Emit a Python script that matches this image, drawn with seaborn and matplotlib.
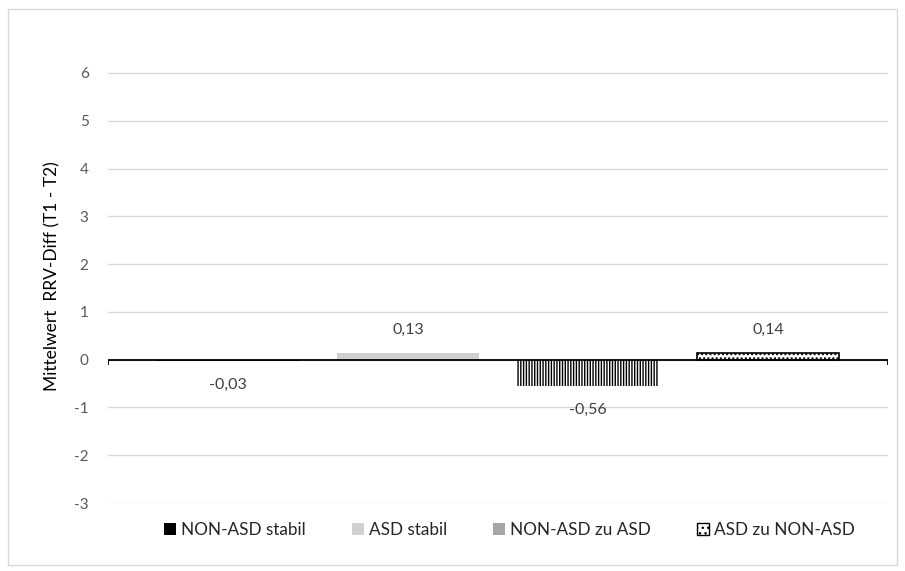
import matplotlib
matplotlib.use("Agg")
import matplotlib.pyplot as plt
import matplotlib.patches as mpatches
import seaborn as sns
import pandas as pd

categories = ["NON-ASD stabil", "ASD stabil", "NON-ASD zu ASD", "ASD zu NON-ASD"]
values = [-0.03, 0.13, -0.56, 0.14]
labels = ["-0,03", "0,13", "-0,56", "0,14"]
yticks = [-3, -2, -1, 0, 1, 2, 3, 4, 5, 6]
ylabel = "Mittelwert  RRV-Diff (T1 - T2)"

sns.set_style("white")
plt.rcParams['font.family'] = ['Lato', 'DejaVu Sans']
plt.rcParams['hatch.linewidth'] = 1.0

df = pd.DataFrame({"cat": categories, "val": values})

fig = plt.figure(figsize=(9.05, 5.71), dpi=100)
ax = fig.add_axes([0.1193, 0.119, 0.862, 0.795])

face = ["#000000", "#d0d0d0", "#ffffff", "#ffffff"]
sns.barplot(data=df, x="cat", y="val", hue="cat", palette=face, legend=False,
            width=0.79, ax=ax, zorder=3)

for i, p in enumerate(ax.patches):
    if i == 2:
        p.set_hatch("||||||")
        p.set_edgecolor("black")
        p.set_linewidth(0)
    elif i == 3:
        p.set_edgecolor("black")
        p.set_linewidth(1.2)
        p.set_hatch("....")
    else:
        p.set_linewidth(0)

xl = (-0.667, 3.667)
ax.set_ylim(-3, 6.5)
ax.set_xlim(*xl)
ax.set_yticks(yticks)
ax.set_yticklabels([str(t) for t in yticks], color="#595959", fontsize=11)
ax.yaxis.grid(True, color="#d9d9d9", linewidth=1, zorder=0)
ax.set_axisbelow(True)
ax.axhline(0, color="black", linewidth=1.3, zorder=4)
ax.vlines(list(xl), -0.12, 0, color="black", linewidth=1.3, zorder=4)
ax.set_xticks([])
ax.set_xlabel("")
ax.set_ylabel(ylabel, fontsize=12.5, color="black", labelpad=10)
for s in ax.spines.values():
    s.set_visible(False)
ax.tick_params(axis="y", length=0, pad=14)

label_y = [-0.52, 0.63, -1.05, 0.63]
for i, (ly, lab) in enumerate(zip(label_y, labels)):
    ax.text(i, ly, lab, ha="center", va="center", fontsize=11.5, color="#404040")

handles = [
    mpatches.Patch(facecolor="#000000", edgecolor="none", label=categories[0]),
    mpatches.Patch(facecolor="#d0d0d0", edgecolor="none", label=categories[1]),
    mpatches.Patch(facecolor="#a6a6a6", edgecolor="none", label=categories[2]),
    mpatches.Patch(facecolor="white", edgecolor="black", hatch="...", label=categories[3]),
]
leg = fig.legend(handles=handles, loc="center", bbox_to_anchor=(0.563, 0.072), ncol=4,
                 frameon=False, fontsize=12.3, handlelength=0.7, handleheight=0.7,
                 handletextpad=0.3, columnspacing=2.7)
for t in leg.get_texts():
    t.set_color("#262626")

border = mpatches.Rectangle((0.009, 0.01), 0.982, 0.975, transform=fig.transFigure,
                            fill=False, edgecolor="#d9d9d9", linewidth=1)
fig.patches.append(border)

fig.savefig("out.png", dpi=100)
